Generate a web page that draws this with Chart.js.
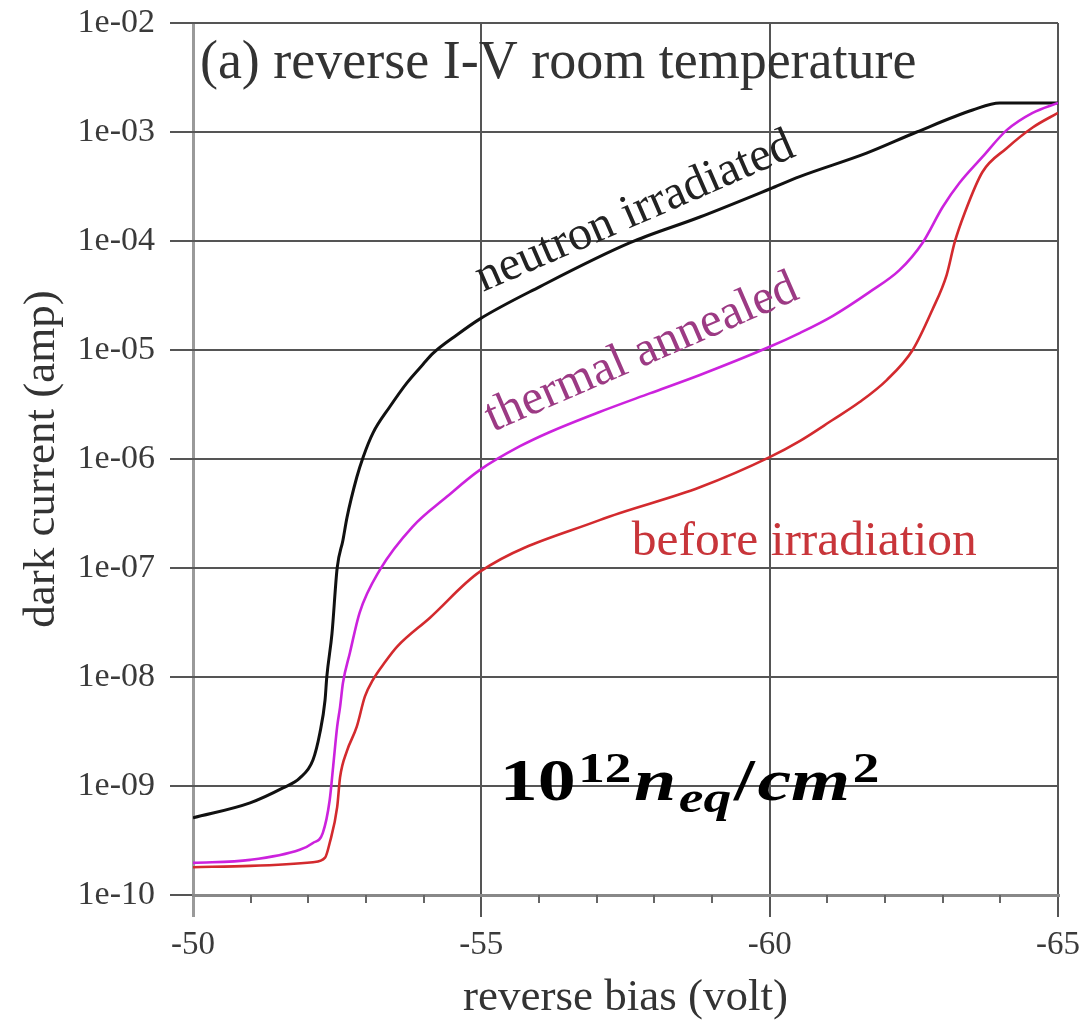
<!DOCTYPE html>
<html>
<head>
<meta charset="utf-8">
<script src="https://cdn.jsdelivr.net/npm/chart.js@4.4.1/dist/chart.umd.min.js"></script>
<style>
  html, body { margin: 0; padding: 0; background: #ffffff; }
  #wrap { width: 1089px; height: 1026px; position: relative; }
</style>
</head>
<body>
<div id="wrap"><canvas id="iv" width="1089" height="1026"></canvas></div>
<script>
// Reverse I-V curves of the photodiode at room temperature (bias in volts, current in amps)
const neutronBias = [-50.00, -50.99, -51.56, -51.85, -52.08, -52.20, -52.29, -52.32, -52.41, -52.50,
  -52.60, -52.67, -52.84, -52.95, -53.12, -53.41, -53.71, -53.99, -54.16, -54.58,
  -54.97, -56.01, -57.57, -58.79, -60.00, -60.52, -61.68, -62.55, -63.52, -63.99, -65.00];
const neutronCurrent = [5.1e-10, 7.0e-10, 9.6e-10, 1.18e-9, 1.73e-9, 3.06e-9, 6.15e-9, 1.0e-8, 2.5e-8, 1.0e-7,
  1.8e-7, 2.9e-7, 6.8e-7, 1.04e-6, 1.73e-6, 3.0e-6, 5.0e-6, 7.4e-6, 9.3e-6, 1.38e-5,
  1.92e-5, 3.8e-5, 9.6e-5, 1.66e-4, 3.0e-4, 3.9e-4, 6.4e-4, 1.0e-3, 1.59e-3, 1.85e-3, 1.85e-3];

const annealedBias = [-50.00, -50.99, -51.85, -52.08, -52.25, -52.37, -52.43, -52.50, -52.55, -52.60,
  -52.72, -52.89, -53.24, -53.81, -54.40, -54.97, -55.67, -56.19, -57.05, -57.92,
  -58.79, -60.00, -60.52, -61.09, -61.73, -62.25, -62.65, -63.00, -63.29, -63.69,
  -64.11, -64.56, -65.00];
const annealedCurrent = [1.97e-10, 2.1e-10, 2.6e-10, 3.0e-10, 3.7e-10, 7.4e-10, 1.5e-9, 3.5e-9, 5.3e-9, 8.8e-9,
  1.66e-8, 3.9e-8, 9.6e-8, 2.4e-7, 4.5e-7, 7.9e-7, 1.31e-6, 1.77e-6, 2.7e-6, 4.0e-6,
  5.9e-6, 1.07e-5, 1.43e-5, 2.05e-5, 3.4e-5, 5.4e-5, 9.6e-5, 2.05e-4, 3.4e-4, 5.9e-4,
  1.04e-3, 1.5e-3, 1.85e-3];

const beforeBias = [-50.00, -50.99, -52.08, -52.29, -52.37, -52.50, -52.55, -52.67, -52.84, -52.98,
  -53.12, -53.33, -53.54, -54.11, -54.97, -57.05, -58.79, -60.00, -60.52, -61.09,
  -61.56, -62.03, -62.48, -62.82, -63.07, -63.21, -63.38, -63.69, -64.11, -64.56,
  -65.00];
const beforeCurrent = [1.8e-10, 1.85e-10, 2.0e-10, 2.2e-10, 3.0e-10, 6.4e-10, 1.2e-9, 2.1e-9, 3.5e-9, 6.6e-9,
  9.4e-9, 1.37e-8, 1.9e-8, 3.5e-8, 9.2e-8, 2.75e-7, 5.5e-7, 1.04e-6, 1.46e-6, 2.28e-6,
  3.33e-6, 5.3e-6, 1.0e-5, 2.33e-5, 4.9e-5, 9.8e-5, 1.8e-4, 4.3e-4, 7.1e-4, 1.1e-3,
  1.5e-3];

// Axis ticks
const yTickValues = [1e-10, 1e-9, 1e-8, 1e-7, 1e-6, 1e-5, 1e-4, 1e-3, 1e-2];
const yTickLabels = ['1e-10', '1e-09', '1e-08', '1e-07', '1e-06', '1e-05', '1e-04', '1e-03', '1e-02'];
const xTickValues = [-50, -55, -60, -65];
const xTickLabels = ['-50', '-55', '-60', '-65'];

const toPoints = (xs, ys) => xs.map((x, i) => ({ x: x, y: ys[i] }));

const SERIF = '"Liberation Serif", "Times New Roman", serif';
const GRID = '#555555';

// Text annotations placed in data coordinates
const annotations = [
  { text: '(a) reverse I-V room temperature', x: -50.12, y: 3.1e-3, angle: 0, size: 54, color: '#333333' },
  { text: 'neutron irradiated', x: -55.03, y: 3.4e-5, angle: -23.5, size: 48, color: '#222222' },
  { text: 'thermal annealed', x: -55.20, y: 1.77e-6, angle: -23.5, size: 49, color: '#9c3a84' },
  { text: 'before irradiation', x: -57.61, y: 1.32e-7, angle: 0, size: 49.5, color: '#c8353a' }
];

// Fluence note: 10^12 n_eq / cm^2
const fluencePieces = [
  { t: '10', style: 'bold', size: 60, dy: 0 },
  { t: '12', style: 'bold', size: 42, dy: -18 },
  { t: 'n', style: 'italic bold', size: 60, dy: 0 },
  { t: 'eq', style: 'italic bold', size: 44, dy: 12 },
  { t: '/', style: 'bold', size: 60, dy: 0 },
  { t: 'cm', style: 'italic bold', size: 60, dy: 0 },
  { t: '2', style: 'bold', size: 42, dy: -18 }
];
const fluenceAnchor = { x: -55.32, y: 7.4e-10 };
const fluenceWidth = 382;

const decorations = {
  id: 'decorations',
  beforeDatasetsDraw(chart) {
    // minor ticks every volt along the bias axis
    const ctx = chart.ctx;
    const xs = chart.scales.x;
    const bottom = chart.chartArea.bottom;
    ctx.save();
    ctx.strokeStyle = '#666666';
    ctx.lineWidth = 2;
    for (let v = -51; v > -65; v -= 1) {
      if (v % 5 === 0) continue;
      const px = Math.round(xs.getPixelForValue(v));
      ctx.beginPath();
      ctx.moveTo(px, bottom);
      ctx.lineTo(px, bottom + 8);
      ctx.stroke();
    }
    ctx.restore();
  },
  afterDatasetsDraw(chart) {
    const ctx = chart.ctx;
    const xs = chart.scales.x;
    const ys = chart.scales.y;
    ctx.save();
    ctx.textBaseline = 'alphabetic';
    ctx.textAlign = 'left';
    annotations.forEach(a => {
      ctx.save();
      ctx.translate(xs.getPixelForValue(a.x), ys.getPixelForValue(a.y));
      ctx.rotate(a.angle * Math.PI / 180);
      ctx.font = a.size + 'px ' + SERIF;
      ctx.fillStyle = a.color;
      ctx.fillText(a.text, 0, 0);
      ctx.restore();
    });

    // fluence note, stretched to its set width
    let natural = 0;
    fluencePieces.forEach(p => {
      ctx.font = p.style + ' ' + p.size + 'px ' + SERIF;
      natural += ctx.measureText(p.t).width + 2;
    });
    ctx.save();
    ctx.translate(xs.getPixelForValue(fluenceAnchor.x), ys.getPixelForValue(fluenceAnchor.y));
    ctx.scale(fluenceWidth / natural, 1);
    ctx.fillStyle = '#000000';
    let px = 0;
    fluencePieces.forEach(p => {
      ctx.font = p.style + ' ' + p.size + 'px ' + SERIF;
      ctx.fillText(p.t, px, p.dy);
      px += ctx.measureText(p.t).width + 2;
    });
    ctx.restore();
    ctx.restore();
  }
};

new Chart(document.getElementById('iv'), {
  type: 'line',
  data: {
    datasets: [
      { label: 'before irradiation', data: toPoints(beforeBias, beforeCurrent), borderColor: '#d32a2e', order: 0 },
      { label: 'thermal annealed', data: toPoints(annealedBias, annealedCurrent), borderColor: '#cc22dd', order: 1 },
      { label: 'neutron irradiated', data: toPoints(neutronBias, neutronCurrent), borderColor: '#111111', borderWidth: 3, order: 2 }
    ]
  },
  options: {
    responsive: false,
    animation: false,
    devicePixelRatio: 1,
    layout: { padding: { left: 0, right: 31, top: 23, bottom: 0 } },
    elements: {
      point: { radius: 0 },
      line: { borderWidth: 2.6, tension: 0, cubicInterpolationMode: 'monotone', fill: false }
    },
    plugins: {
      legend: { display: false },
      tooltip: { enabled: false },
      title: { display: false }
    },
    scales: {
      x: {
        type: 'linear',
        min: -65,
        max: -50,
        reverse: true,
        afterFit(scale) {
          scale.height = 131;
          scale.paddingLeft = 0;
          scale.paddingRight = 0;
        },
        afterBuildTicks(scale) { scale.ticks = xTickValues.map(v => ({ value: v })); },
        ticks: {
          callback: (v) => xTickLabels[xTickValues.indexOf(v)],
          font: { family: SERIF, size: 33 },
          color: '#3a3a3a',
          padding: 9,
          maxRotation: 0,
          autoSkip: false
        },
        grid: {
          color: (c) => (c.tick && c.tick.value === -50 ? '#9a9a9a' : GRID),
          lineWidth: (c) => (c.tick && c.tick.value === -50 ? 3 : 2),
          tickLength: 22,
          drawTicks: true
        },
        border: { display: true, color: '#888888', width: 3 },
        title: {
          display: true,
          text: 'reverse bias (volt)',
          font: { family: SERIF, size: 45 },
          color: '#333333',
          padding: { top: 0, bottom: 1 }
        }
      },
      y: {
        type: 'logarithmic',
        min: 1e-10,
        max: 1e-2,
        afterFit(scale) {
          scale.width = 193;
          scale.paddingTop = 0;
          scale.paddingBottom = 0;
        },
        afterBuildTicks(scale) { scale.ticks = yTickValues.map(v => ({ value: v })); },
        ticks: {
          callback: (v, i) => yTickLabels[i],
          font: { family: SERIF, size: 34 },
          color: '#3a3a3a',
          padding: 15,
          autoSkip: false
        },
        grid: {
          color: GRID,
          lineWidth: 2,
          tickLength: 23
        },
        border: { display: false },
        title: {
          display: true,
          text: 'dark current (amp)',
          font: { family: SERIF, size: 45 },
          color: '#333333',
          padding: { top: 15, bottom: 0 }
        }
      }
    }
  },
  plugins: [decorations]
});
</script>
</body>
</html>
